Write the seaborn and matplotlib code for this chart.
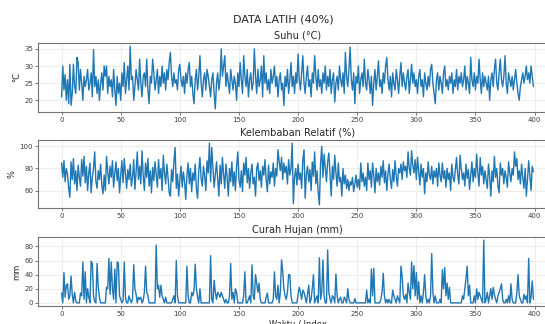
import numpy as np
import pandas as pd
import matplotlib
matplotlib.use("Agg")
import matplotlib.pyplot as plt
import seaborn as sns

# nilai (perkiraan)
suhu = [
    21, 30, 23, 27.5, 20, 26, 19, 30.5, 18.5, 22, 30.5, 24, 22, 32.5, 31, 23, 29, 25, 20, 27,
    24, 26, 29, 23, 25, 28, 21, 34.8, 24, 27, 22, 26, 20, 25, 28, 23, 30, 27, 30, 22,
    27, 24, 26, 21, 29, 23, 18.5, 27, 22, 25, 20, 28, 24, 31, 22, 26, 30, 23, 35.8, 26,
    27, 20, 24, 29, 26, 23, 32, 25, 21, 27, 28, 24, 32, 23, 19, 27, 25, 32, 28, 23,
    26, 29, 22, 27, 24, 30, 25, 28, 23, 29, 26, 31, 34, 27, 24, 28, 25, 26, 23, 29,
    30.5, 26, 24, 27, 22, 28, 25, 29, 31, 24, 27, 22, 19, 26, 29, 23, 27, 33, 25, 21,
    26, 28, 23, 29, 27, 24, 21, 26, 28, 22, 17.5, 25, 28, 23, 26, 35, 27, 30, 33, 24,
    28, 25, 22, 29, 26, 23, 27, 25, 20, 28, 24, 31, 26, 22, 33, 27, 24, 29, 21, 26,
    28, 23, 25, 35, 27, 22, 29, 24, 26, 30, 21, 33, 25, 28, 23, 26, 22, 29, 25, 27,
    30, 24, 27, 21, 26, 28, 23, 25, 18.5, 27, 24, 29, 22, 26, 31, 24, 27, 22, 28, 25,
    33.5, 26, 23, 28, 33, 25, 22, 27, 30, 24, 26, 21, 28, 25, 33, 27, 23, 29, 24, 26,
    22, 28, 25, 30, 23, 27, 24, 29, 22, 26, 28, 19.5, 25, 27, 23, 30, 26, 24, 28, 22,
    34, 27, 24, 29, 35.5, 26, 23, 28, 19, 27, 25, 30, 22, 26, 28, 24, 32, 25, 23, 29,
    26, 22, 27, 18.5, 25, 29, 23, 27, 31.5, 24, 26, 22, 28, 25, 30, 32.5, 26, 23, 27, 21,
    28, 25, 23, 29, 26, 22, 27, 31, 24, 28, 25, 23, 27, 29, 22, 26, 30.5, 25, 28, 24,
    26, 22, 27, 29, 24, 26, 21, 28, 25, 23, 27, 24, 29, 30.5, 25, 22, 19, 26, 28, 23,
    27, 25, 22, 28, 30, 24, 26, 23, 27, 25, 28, 22, 26, 24, 29, 23, 27, 25, 28, 24,
    26, 30, 23, 27, 25, 22, 32.5, 26, 24, 28, 23, 27, 25, 32, 26, 22, 28, 24, 27, 25,
    23, 27, 20, 26, 28, 24, 29, 32, 25, 23, 28, 32, 26, 24, 27, 33, 25, 22, 28, 26,
    24, 27, 23, 26, 29, 25, 22, 20, 24, 26, 28, 25, 27, 30, 26, 28, 25, 30, 27, 24,
]

kelembaban = [
    85, 72, 87, 68, 80, 75, 62, 54, 86, 70, 89, 66, 78, 60, 83, 72, 64, 88, 73, 91,
    67, 82, 60, 76, 85, 58, 72, 80, 95, 68, 62, 78, 70, 84, 65, 57, 74, 60, 91, 77,
    66, 82, 72, 87, 63, 76, 86, 69, 80, 58, 74, 87, 67, 89, 75, 62, 79, 70, 84, 64,
    72, 88, 61, 77, 95, 70, 82, 66, 96, 74, 60, 85, 72, 89, 64, 78, 58, 81, 69, 86,
    75, 63, 88, 71, 80, 60, 92, 76, 66, 84, 72, 58, 55, 79, 68, 86, 99, 62, 75, 55,
    70, 82, 63, 77, 68, 52, 74, 85, 66, 80, 59, 76, 69, 84, 62, 53, 78, 90, 71, 64,
    82, 73, 60, 87, 76, 103, 68, 99, 80, 63, 74, 86, 70, 55, 83, 66, 90, 75, 62, 84,
    72, 55, 80, 68, 86, 64, 77, 60, 82, 95, 70, 63, 78, 59, 85, 74, 90, 67, 80, 62,
    76, 84, 66, 72, 55, 80, 85, 69, 78, 63, 82, 74, 88, 70, 59, 83, 66, 77, 72, 85,
    64, 80, 73, 97, 86, 78, 90, 70, 85, 76, 82, 66, 88, 74, 80, 103, 48, 72, 80, 65,
    84, 70, 76, 62, 88, 97, 53, 75, 82, 68, 79, 60, 86, 73, 95, 66, 78, 58, 47, 84,
    100, 72, 93, 80, 68, 86, 94, 74, 55, 82, 70, 92, 76, 64, 85, 68, 72, 55, 80, 66,
    74, 62, 70, 60, 68, 65, 72, 59, 66, 74, 63, 70, 61, 85, 68, 76, 64, 72, 60, 85,
    70, 78, 63, 85, 74, 58, 80, 68, 76, 65, 82, 72, 87, 67, 78, 60, 75, 84, 70, 62,
    79, 68, 87, 73, 64, 80, 76, 84, 70, 86, 78, 82, 72, 95, 80, 74, 96, 83, 76, 88,
    70, 90, 78, 65, 84, 72, 80, 57, 76, 68, 86, 74, 70, 82, 66, 78, 72, 80, 64, 85,
    74, 68, 85, 71, 78, 63, 80, 70, 76, 60, 84, 72, 68, 79, 90, 74, 66, 92, 80, 70,
    76, 64, 84, 71, 79, 61, 73, 86, 68, 80, 72, 93, 76, 64, 90, 74, 82, 66, 78, 70,
    62, 84, 73, 55, 78, 68, 91, 72, 80, 64, 58, 85, 74, 80, 66, 78, 72, 63, 86, 76,
    68, 80, 74, 95, 82, 89, 70, 78, 66, 84, 72, 62, 80, 55, 70, 87, 74, 60, 82, 77,
]

hujan = [
    14, 0, 43, 8, 25, 27, 5, 10, 38, 12, 0, 15, 3, 0, 0, 0, 14, 10, 58, 5,
    44, 0, 20, 8, 0, 59, 56, 10, 2, 0, 56, 22, 8, 0, 0, 0, 0, 0, 22, 20,
    63, 12, 58, 20, 5, 48, 0, 58, 57, 10, 5, 0, 3, 58, 8, 0, 0, 10, 4, 0,
    6, 54, 20, 12, 0, 8, 5, 8, 0, 3, 15, 52, 15, 10, 0, 0, 0, 0, 0, 0,
    82, 20, 25, 8, 25, 10, 5, 0, 8, 0, 0, 0, 0, 0, 5, 10, 0, 60, 10, 0,
    0, 0, 0, 0, 0, 0, 52, 10, 0, 0, 15, 10, 18, 55, 20, 8, 0, 20, 0, 0,
    0, 0, 0, 0, 0, 0, 67, 5, 0, 32, 15, 5, 15, 12, 8, 15, 10, 5, 0, 5,
    0, 0, 10, 56, 5, 15, 0, 20, 15, 0, 0, 0, 0, 0, 10, 44, 0, 0, 5, 10,
    0, 54, 10, 5, 40, 28, 15, 28, 5, 0, 0, 0, 0, 8, 14, 0, 0, 0, 0, 5,
    44, 10, 5, 25, 0, 15, 61, 45, 20, 10, 5, 15, 40, 40, 10, 0, 0, 0, 0, 0,
    12, 22, 15, 5, 18, 15, 8, 0, 12, 25, 0, 5, 20, 40, 0, 5, 10, 0, 64, 5,
    15, 61, 10, 0, 0, 75, 15, 5, 0, 10, 8, 0, 41, 10, 0, 5, 8, 0, 0, 8,
    5, 0, 20, 5, 0, 0, 0, 0, 6, 0, 0, 0, 0, 0, 0, 0, 0, 0, 18, 0,
    5, 0, 48, 10, 49, 0, 0, 0, 0, 0, 5, 15, 42, 10, 0, 5, 0, 5, 0, 0,
    18, 10, 5, 0, 10, 5, 0, 52, 38, 10, 5, 12, 0, 28, 15, 5, 58, 20, 53, 10,
    43, 5, 30, 0, 10, 0, 15, 40, 10, 0, 5, 0, 10, 70, 15, 0, 10, 0, 0, 0,
    5, 0, 47, 20, 50, 10, 28, 5, 22, 0, 0, 0, 0, 0, 0, 0, 0, 0, 0, 10,
    5, 20, 35, 52, 10, 25, 0, 0, 0, 10, 0, 20, 5, 15, 10, 5, 0, 89, 0, 5,
    15, 0, 10, 20, 5, 22, 12, 5, 0, 10, 15, 20, 27, 5, 0, 0, 5, 0, 10, 0,
    27, 5, 0, 0, 0, 15, 40, 10, 5, 0, 0, 12, 5, 10, 0, 63, 0, 8, 31, 5,
]

judul = ["Suhu (°C)", "Kelembaban Relatif (%)", "Curah Hujan (mm)"]
satuan = ["°C", "%", "mm"]

df = pd.DataFrame({"idx": np.arange(len(suhu)), "suhu": suhu,
                   "rh": kelembaban, "hujan": hujan})

sns.set_style("whitegrid", {"axes.edgecolor": "0.45", "grid.color": "0.93",
                            "xtick.bottom": True, "ytick.left": True})
plt.rcParams['font.family'] = ['DejaVu Sans']

fig = plt.figure(figsize=(5.45, 3.24), dpi=100)
W, H = 545, 324
# (atas, bawah) dalam piksel
posisi = [(43, 112), (140, 208), (237, 306)]
kolom = ["suhu", "rh", "hujan"]

for k, (top, bot) in enumerate(posisi):
    ax = fig.add_axes([38 / W, (H - bot) / H, 519 / W, (bot - top) / H])
    sns.lineplot(data=df, x="idx", y=kolom[k], ax=ax, color="#1f77b4", linewidth=1.0)
    ax.set_title(judul[k], fontsize=7, pad=3, color="0.15")
    ax.set_ylabel(satuan[k], fontsize=6, labelpad=2)
    ax.set_xlabel("")
    ax.tick_params(labelsize=5, length=2, width=0.5, pad=1.5, colors="0.25")
    ax.set_xticks([0, 50, 100, 150, 200, 250, 300, 350, 400])
    for s in ax.spines.values():
        s.set_linewidth(0.8)
    if k == 0:
        ax.set_yticks([20, 25, 30, 35])
    elif k == 1:
        ax.set_yticks([60, 80, 100])
    else:
        ax.set_yticks([0, 20, 40, 60, 80])
        ax.set_xlabel("Waktu / Index", fontsize=6, labelpad=2)

fig.text(283 / W, 1 - 19 / H, "DATA LATIH (40%)", ha="center", va="center", fontsize=8)

fig.savefig("out.png", dpi=100)
